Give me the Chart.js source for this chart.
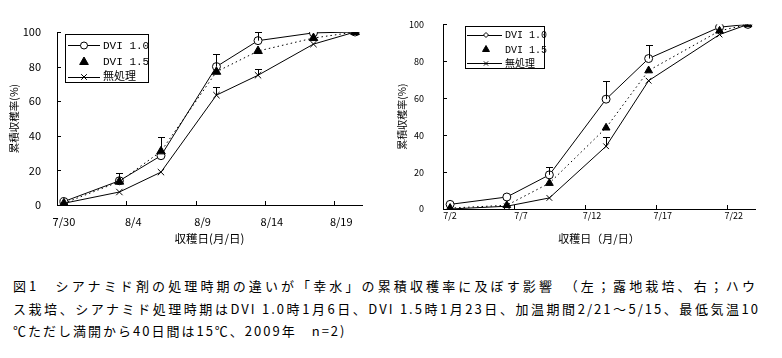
<!DOCTYPE html>
<html><head><meta charset="utf-8">
<script src="https://cdn.jsdelivr.net/npm/chart.js@4/dist/chart.umd.min.js"></script>
<style>
body{margin:0;background:#fff;width:782px;height:358px;overflow:hidden;position:relative;font-family:"Noto Sans CJK JP",sans-serif;color:#000}
#c1{position:absolute;left:0;top:0}
#c2{position:absolute;left:380px;top:0}
.cap{position:absolute;left:13px;font-size:13px;letter-spacing:2px;line-height:21.5px;white-space:nowrap}
.j{text-align:justify;text-align-last:justify}
</style></head><body>
<canvas id="c1" width="380" height="250"></canvas>
<canvas id="c2" width="402" height="250"></canvas>
<div class="cap j" style="top:275px;width:744px">図1　シアナミド剤の処理時期の違いが「幸水」の累積収穫率に及ぼす影響　（左；露地栽培、右；ハウ</div>
<div class="cap j" style="top:297.5px;width:747px">ス栽培、シアナミド処理時期はDVI 1.0時1月6日、DVI 1.5時1月23日、加温期間2/21～5/15、最低気温10</div>
<div class="cap" style="top:320px">℃ただし満開から40日間は15℃、2009年　n=2)</div>
<script>
// ---- data (left: open field, right: greenhouse) ----
const seriesNames = ['DVI 1.0', 'DVI 1.5', '無処理'];
const yTicks = [0, 20, 40, 60, 80, 100];

const leftDates = ['7/30', '8/3', '8/6', '8/10', '8/13', '8/17', '8/20'];
const leftDVI10 = [2, 14, 28.5, 80, 95, 99.5, 100];
const leftDVI15 = [1, 13.5, 31, 77, 89, 96.5, 100];
const leftUntreated = [1, 7.5, 19, 63.5, 75, 93, 100];
const leftErrDVI10 = [null, 4.5, null, 7.5, 5, null, null];
const leftErrDVI15 = [null, null, 8.5, null, null, null, null];
const leftErrUntreated = [null, null, null, 4.5, 3.5, null, null];
const leftTickLabels = ['7/30', '8/4', '8/9', '8/14', '8/19'];

const rightDates = ['7/2', '7/6', '7/9', '7/13', '7/16', '7/21', '7/23'];
const rightDVI10 = [2.5, 6.5, 18.5, 59.5, 81.5, 98.5, 100];
const rightDVI15 = [0.5, 2, 14, 44, 75, 96.5, 100];
const rightUntreated = [0, 1.5, 6, 34, 69.5, 94.5, 100];
const rightErrDVI10 = [null, null, 4, 10, 7.5, null, null];
const rightErrDVI15 = [null, null, null, null, null, null, null];
const rightErrUntreated = [null, null, null, 5, null, null, null];
const rightTickLabels = ['7/2', '7/7', '7/12', '7/17', '7/22'];

// ---- helpers ----
const FONT = '"Noto Sans CJK JP", sans-serif';
Chart.defaults.font.family = FONT;
Chart.defaults.color = '#000';

function dayIndex(d, start) {
  const [m, dd] = d.split('/').map(Number);
  const [sm, sd] = start.split('/').map(Number);
  return Math.round((Date.UTC(2009, m - 1, dd) - Date.UTC(2009, sm - 1, sd)) / 864e5);
}

const errorBarPlugin = {
  id: 'errorBars',
  afterDatasetsDraw(chart) {
    const ctx = chart.ctx, xs = chart.scales.x, ys = chart.scales.y;
    const capW = chart.options.plugins.errorBars.cap;
    ctx.save();
    ctx.strokeStyle = '#000'; ctx.lineWidth = 1; ctx.setLineDash([]);
    chart.data.datasets.forEach(ds => {
      (ds.errorBars || []).forEach((e, i) => {
        if (e == null) return;
        const p = ds.data[i];
        const x = Math.round(xs.getPixelForValue(p.x)) + 0.5;
        const y0 = ys.getPixelForValue(p.y), y1 = Math.round(ys.getPixelForValue(p.y + e)) + 0.5;
        ctx.beginPath();
        ctx.moveTo(x, y0); ctx.lineTo(x, y1);
        ctx.moveTo(x - capW, y1); ctx.lineTo(x + capW, y1);
        ctx.stroke();
      });
    });
    ctx.restore();
  }
};

const tickMarkPlugin = {
  id: 'inTicks',
  afterDraw(chart) {
    const o = chart.options.plugins.inTicks;
    const ctx = chart.ctx, xs = chart.scales.x, ys = chart.scales.y, a = chart.chartArea;
    ctx.save();
    ctx.strokeStyle = '#000'; ctx.lineWidth = 1;
    ctx.beginPath();
    ys.ticks.forEach(t => {
      const y = Math.round(ys.getPixelForValue(t.value)) + 0.5;
      ctx.moveTo(a.left, y); ctx.lineTo(a.left + o.len, y);
    });
    o.xBounds.forEach(v => {
      const x = Math.round(xs.getPixelForValue(v)) + 0.5;
      ctx.moveTo(x, a.bottom); ctx.lineTo(x, a.bottom - o.len);
    });
    ctx.stroke();
    ctx.restore();
  }
};

const boxLegendPlugin = {
  id: 'boxLegend',
  afterDraw(chart) {
    const o = chart.options.plugins.boxLegend;
    const ctx = chart.ctx;
    ctx.save();
    ctx.strokeStyle = '#000'; ctx.lineWidth = 1; ctx.setLineDash([]);
    ctx.fillStyle = '#fff';
    ctx.fillRect(o.box[0], o.box[1], o.box[2], o.box[3]);
    ctx.strokeRect(o.box[0] + 0.5, o.box[1] + 0.5, o.box[2], o.box[3]);
    chart.data.datasets.forEach((ds, i) => {
      const y = o.rows[i];
      ctx.strokeStyle = '#000';
      if (o.drawLine[i]) {
        ctx.beginPath();
        ctx.moveTo(o.line[0], Math.round(y) + 0.5); ctx.lineTo(o.line[1], Math.round(y) + 0.5);
        ctx.stroke();
      }
      const mk = o.markers[i];
      ctx.fillStyle = mk.fill;
      Chart.helpers.drawPoint(ctx, {pointStyle: mk.style, radius: mk.r, borderWidth: 1}, o.markerX, y + 0.5);
      ctx.fillStyle = '#000';
      ctx.font = o.font;
      ctx.textBaseline = 'middle'; ctx.textAlign = 'left';
      ctx.fillText(ds.label, o.textX, y + 1);
    });
    ctx.restore();
  }
};

function makeDatasets(dates, start, vals, errs, mk) {
  return vals.map((v, k) => ({
    label: seriesNames[k],
    data: dates.map((d, i) => ({x: dayIndex(d, start), y: v[i]})),
    errorBars: errs[k],
    order: k === 1 ? -1 : 0,
    borderColor: '#000',
    borderWidth: 1,
    borderDash: k === 1 ? [1.5, 3] : [],
    pointStyle: mk[k].style,
    pointRadius: mk[k].r,
    pointBackgroundColor: mk[k].fill,
    pointBorderColor: '#000',
    pointBorderWidth: 1,
    tension: 0,
    fill: false
  }));
}

function makeChart(id, c) {
  const start = c.tickLabels[0];
  const last = dayIndex(c.dates[c.dates.length - 1], start);
  return new Chart(document.getElementById(id), {
    type: 'line',
    data: {datasets: makeDatasets(c.dates, start, c.vals, c.errs, c.markers)},
    options: {
      responsive: false, animation: false, devicePixelRatio: 1,
      layout: {padding: c.pad},
      plugins: {
        legend: {display: false}, tooltip: {enabled: false},
        errorBars: {cap: c.cap},
        inTicks: {len: 4, xBounds: c.tickLabels.map(l => dayIndex(l, start) - 0.5)},
        boxLegend: c.legend
      },
      scales: {
        x: {
          type: 'linear', min: -0.5, max: last + 0.5,
          afterBuildTicks: s => { s.ticks = c.tickLabels.map(l => ({value: dayIndex(l, start)})); },
          grid: {display: false, drawTicks: false},
          border: {display: true, color: '#000', width: 1},
          ticks: {autoSkip: false, maxRotation: 0, padding: c.xPad, font: {size: c.tickSize}, color: '#000',
                  callback: (v, i) => c.tickLabels[i]},
          title: {display: true, text: c.xTitle, font: {size: c.xTitleSize}, color: '#000', padding: {top: 0, bottom: c.xTitlePadB}},
          afterFit: s => { s.height = c.xH; }
        },
        y: {
          min: 0, max: 100,
          afterBuildTicks: s => { s.ticks = yTicks.map(v => ({value: v})); },
          grid: {display: false, drawTicks: false},
          border: {display: true, color: '#000', width: 1},
          ticks: {padding: c.yPad, font: {size: c.tickSize}, color: '#000'},
          title: {display: true, text: '累積収穫率(%)', font: {size: c.yTitleSize}, color: '#000', padding: {top: c.yTitlePadT, bottom: 0}},
          afterFit: s => { s.width = c.yW; }
        }
      }
    },
    plugins: [errorBarPlugin, tickMarkPlugin, boxLegendPlugin]
  });
}

makeChart('c1', {
  dates: leftDates, tickLabels: leftTickLabels,
  vals: [leftDVI10, leftDVI15, leftUntreated],
  errs: [leftErrDVI10, leftErrDVI15, leftErrUntreated],
  markers: [{style: 'circle', r: 4, fill: '#fff'}, {style: 'triangle', r: 5, fill: '#000'}, {style: 'crossRot', r: 4.5, fill: '#000'}],
  pad: {left: 0, right: 18, top: 32, bottom: 0},
  yW: 57, xH: 45, yPad: 16, xPad: 10, tickSize: 11,
  xTitle: '収穫日(月/日)', xTitleSize: 11.5, xTitlePadB: 4,
  yTitleSize: 10.5, yTitlePadT: 8,
  cap: 3.5,
  legend: {box: [65, 34, 83, 48], rows: [45, 61.5, 76.5], drawLine: [true, false, true], line: [68, 100], markerX: 84, textX: 103,
           font: '11px "Liberation Mono", "Noto Sans CJK JP", monospace',
           markers: [{style: 'circle', r: 3.5, fill: '#fff'}, {style: 'triangle', r: 5, fill: '#000'}, {style: 'crossRot', r: 4, fill: '#000'}]}
});

makeChart('c2', {
  dates: rightDates, tickLabels: rightTickLabels,
  vals: [rightDVI10, rightDVI15, rightUntreated],
  errs: [rightErrDVI10, rightErrDVI15, rightErrUntreated],
  markers: [{style: 'circle', r: 4, fill: '#fff'}, {style: 'triangle', r: 4.5, fill: '#000'}, {style: 'crossRot', r: 4, fill: '#000'}],
  pad: {left: 0, right: 27, top: 21, bottom: 0},
  yW: 63, xH: 41, yPad: 19, xPad: 1, tickSize: 9,
  xTitle: '収穫日（月/日）', xTitleSize: 11, xTitlePadB: 5,
  yTitleSize: 10, yTitlePadT: 16,
  cap: 3.5,
  legend: {box: [85, 26, 79, 42], rows: [34.5, 49, 63], drawLine: [true, false, true], line: [87, 122], markerX: 106, textX: 125,
           font: '10px "Liberation Mono", "Noto Sans CJK JP", monospace',
           markers: [{style: 'rectRot', r: 2.5, fill: '#fff'}, {style: 'triangle', r: 4, fill: '#000'}, {style: 'crossRot', r: 3, fill: '#000'}]}
});
</script>
</body></html>
